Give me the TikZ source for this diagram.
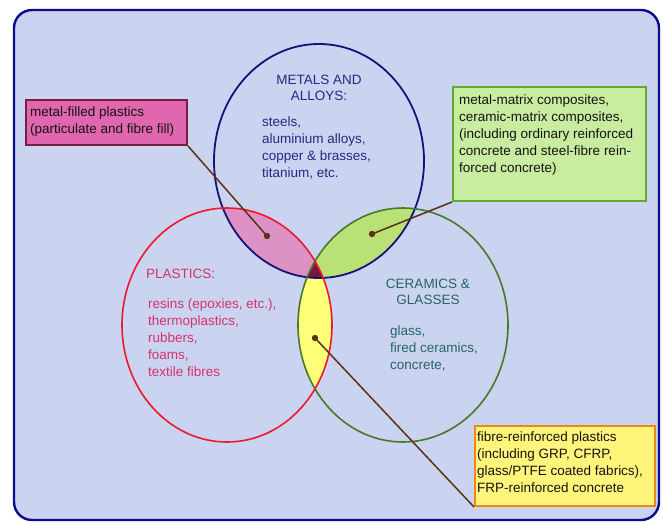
\documentclass[tikz,border=0pt]{standalone}
\usepackage{fontspec}
\setmainfont{Liberation Sans}

\definecolor{panel}{RGB}{202,211,239}
\definecolor{frame}{RGB}{12,12,140}
\definecolor{metline}{RGB}{20,20,120}
\definecolor{plaline}{RGB}{240,24,44}
\definecolor{cerline}{RGB}{70,122,40}
\definecolor{pinkfill}{RGB}{222,145,196}
\definecolor{limefill}{RGB}{185,225,118}
\definecolor{yelfill}{RGB}{255,255,120}
\definecolor{triplefill}{RGB}{120,22,70}
\definecolor{pinkbox}{RGB}{224,102,176}
\definecolor{pinkedge}{RGB}{120,30,62}
\definecolor{limebox}{RGB}{200,236,160}
\definecolor{limeedge}{RGB}{100,170,50}
\definecolor{yelbox}{RGB}{255,245,122}
\definecolor{yeledge}{RGB}{240,135,20}
\definecolor{leaderink}{RGB}{90,50,20}
\definecolor{metink}{RGB}{40,40,130}
\definecolor{plaink}{RGB}{215,50,110}
\definecolor{cerink}{RGB}{40,100,100}
\definecolor{boxink}{RGB}{20,20,20}

\tikzset{
  txt/.style={inner sep=0pt, font=\fontsize{13.5}{16.8}\selectfont},
  boxtext/.style={txt, anchor=north west, align=left, text=boxink},
  calloutbox/.style={anchor=north west, line width=2pt, inner sep=0pt},
  leader/.style={draw=leaderink, line width=1.5pt}
}

\begin{document}
\begin{tikzpicture}[x=1pt,y=-1pt]
  % Parameters
  \def\rx{105}
  \def\ry{117}

  \useasboundingbox (0,0) rectangle (662,522);

  % Background panel
  \filldraw[fill=panel, draw=frame, line width=2.4pt, rounded corners=18pt] (14,10) rectangle (659,520);

  % Circle centres
  \coordinate (met) at (319,161);
  \coordinate (pla) at (227,325);
  \coordinate (cer) at (403,325);

  % Overlaps with metals
  \begin{scope}
    \clip (met) ellipse [x radius=\rx, y radius=\ry];
    \fill[pinkfill] (pla) ellipse [x radius=\rx, y radius=\ry];
    \fill[limefill] (cer) ellipse [x radius=\rx, y radius=\ry];
  \end{scope}

  % Plastics and ceramics overlap, then all three
  \begin{scope}
    \clip (pla) ellipse [x radius=\rx, y radius=\ry];
    \fill[yelfill] (cer) ellipse [x radius=\rx, y radius=\ry];
    \clip (cer) ellipse [x radius=\rx, y radius=\ry];
    \fill[triplefill] (met) ellipse [x radius=\rx, y radius=\ry];
  \end{scope}

  % Outlines
  \draw[metline, line width=1.8pt] (met) ellipse [x radius=\rx, y radius=\ry];
  \draw[cerline, line width=1.6pt] (cer) ellipse [x radius=\rx, y radius=\ry];
  \draw[plaline, line width=1.6pt] (pla) ellipse [x radius=\rx, y radius=\ry];

  % Circle labels
  \node[txt, anchor=north, align=center, text=metink] (mettitle) at (319,74.5) {METALS AND\\ALLOYS:};
  \node[txt, anchor=north west, align=left, text=metink] (metlist) at (262,117)
    {steels,\\aluminium alloys,\\copper \& brasses,\\titanium, etc.};
  \node[txt, anchor=north west, text=plaink] (platitle) at (146,268.5) {PLASTICS:};
  \node[txt, anchor=north west, align=left, text=plaink] (plalist) at (148,299)
    {resins (epoxies, etc.),\\thermoplastics,\\rubbers,\\foams,\\textile fibres};
  \node[txt, anchor=north, align=center, text=cerink] (certitle) at (428,278.5) {CERAMICS \&\\GLASSES};
  \node[txt, anchor=north west, align=left, text=cerink] (cerlist) at (390,326)
    {glass,\\fired ceramics,\\concrete,};

  % Callout boxes
  \node[calloutbox, fill=pinkbox, draw=pinkedge, minimum width=161pt, minimum height=45pt] (mfpbox) at (25,99) {};
  \node[boxtext] (mfptext) at (30,107) {metal-filled plastics\\(particulate and fibre fill)};

  \node[calloutbox, fill=limebox, draw=limeedge, minimum width=193pt, minimum height=114pt] (mmcbox) at (452,86) {};
  \node[boxtext] (mmctext) at (459,95) {metal-matrix composites,\\ceramic-matrix composites,\\(including ordinary reinforced\\concrete and steel-fibre rein-\\forced concrete)};

  \node[calloutbox, fill=yelbox, draw=yeledge, minimum width=180pt, minimum height=80pt] (frpbox) at (474,425) {};
  \node[boxtext] (frptext) at (477,432) {fibre-reinforced plastics\\(including GRP, CFRP,\\glass/PTFE coated fabrics),\\FRP-reinforced concrete};

  % Leaders
  \coordinate (mfpdot) at (267,236);
  \coordinate (mmcdot) at (372,234);
  \coordinate (frpdot) at (315,338);
  \draw[leader] (mfpbox.south east) -- (mfpdot);
  \draw[leader] (mmcbox.south west) -- (mmcdot);
  \draw[leader] (frpbox.south west) -- (frpdot);
  \fill[leaderink] (mfpdot) circle (3.2);
  \fill[leaderink] (mmcdot) circle (3.2);
  \fill[leaderink] (frpdot) circle (3.2);

\end{tikzpicture}
\end{document}
